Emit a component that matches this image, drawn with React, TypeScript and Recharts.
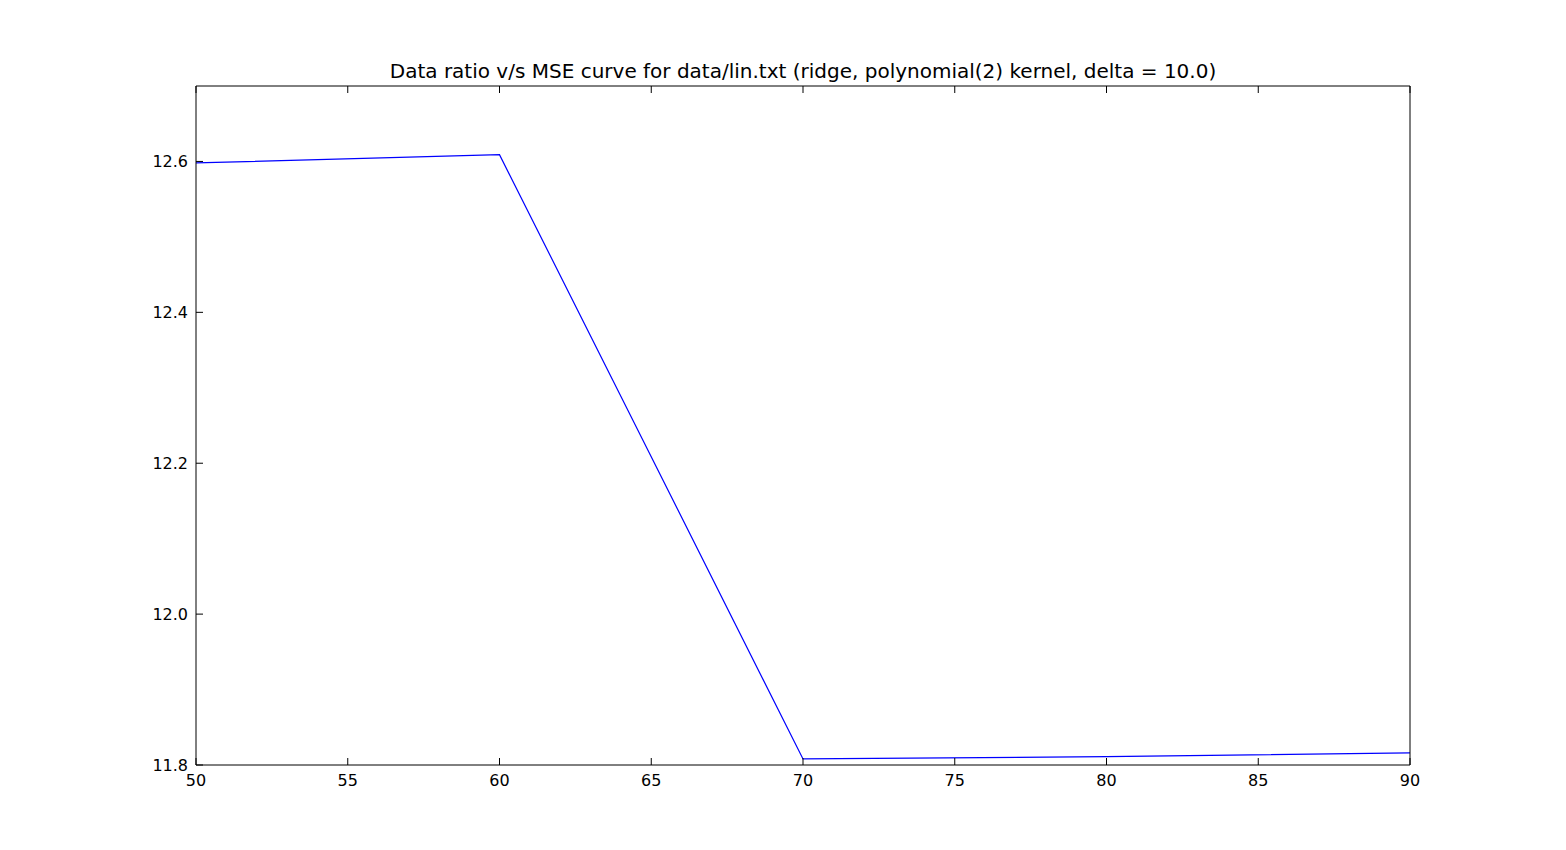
import React from "react";
import { LineChart, Line, XAxis, YAxis } from "recharts";

const ratios = [50, 60, 70, 80, 90];
const mse = [12.598, 12.609, 11.808, 11.811, 11.816];
const xTicks = [50, 55, 60, 65, 70, 75, 80, 85, 90];
const yTicks = [11.8, 12.0, 12.2, 12.4, 12.6];

const data = ratios.map((r, i) => ({ ratio: r, mse: mse[i] }));

const font = { fontSize: 16, fill: "#000", fontFamily: "DejaVu Sans" };

export default function App() {
  return (
    <div style={{ position: "absolute", left: 0, top: 0, width: 1566, height: 850, background: "#fff" }}>
      <div
        style={{
          position: "absolute",
          left: 196,
          width: 1214,
          top: 58,
          textAlign: "center",
          fontFamily: "DejaVu Sans",
          fontSize: 20,
          lineHeight: "26px",
        }}
      >
        Data ratio v/s MSE curve for data/lin.txt (ridge, polynomial(2) kernel, delta = 10.0)
      </div>
      <LineChart width={1566} height={850} data={data} margin={{ top: 85, right: 155, bottom: 84, left: 195 }}>
        <XAxis
          xAxisId="b"
          dataKey="ratio"
          type="number"
          domain={[50, 90]}
          ticks={xTicks}
          tickSize={-7}
          tickMargin={17}
          height={1}
          stroke="#000"
          tick={font}
        />
        <XAxis
          xAxisId="t"
          orientation="top"
          dataKey="ratio"
          type="number"
          domain={[50, 90]}
          ticks={xTicks}
          tickSize={-7}
          tickFormatter={() => ""}
          height={1}
          stroke="#000"
        />
        <YAxis
          yAxisId="l"
          type="number"
          domain={[11.8, 12.7]}
          ticks={yTicks}
          tickFormatter={(v) => v.toFixed(1)}
          tickSize={-7}
          tickMargin={15}
          width={1}
          stroke="#000"
          tick={font}
        />
        <YAxis
          yAxisId="r"
          orientation="right"
          type="number"
          domain={[11.8, 12.7]}
          ticks={yTicks}
          tickSize={-7}
          tickFormatter={() => ""}
          width={1}
          stroke="#000"
        />
        <Line
          xAxisId="b"
          yAxisId="l"
          dataKey="mse"
          type="linear"
          stroke="#0000ff"
          strokeWidth={1.2}
          dot={false}
          isAnimationActive={false}
        />
      </LineChart>
    </div>
  );
}
